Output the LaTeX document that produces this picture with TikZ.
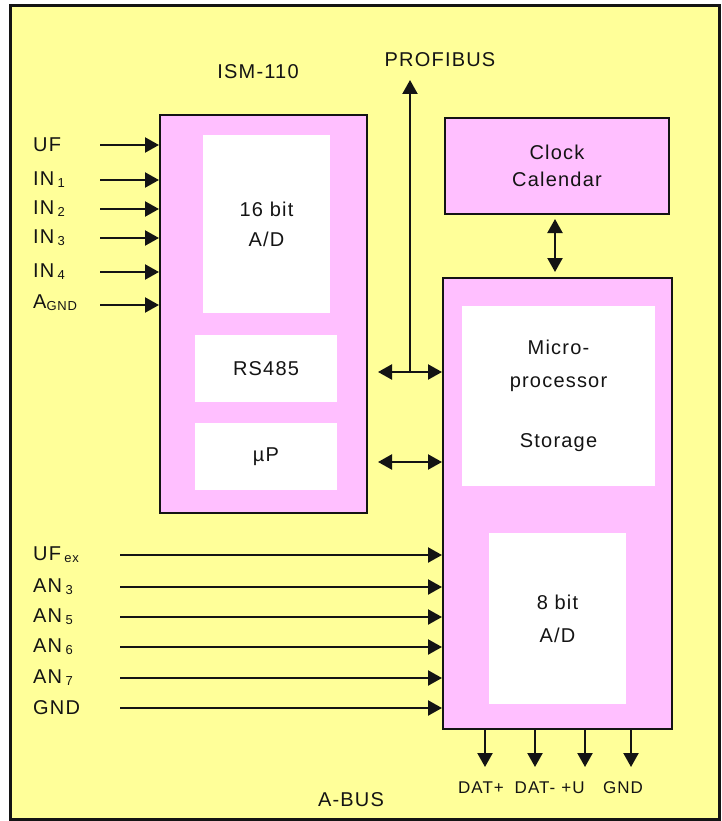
\documentclass[tikz,border=0pt]{standalone}
\usepackage{fontspec}
\setmainfont{Liberation Sans}[LetterSpace=6]
\usepackage{tikz}
\usetikzlibrary{arrows.meta,positioning}
\definecolor{canary}{HTML}{FFFF99}
\definecolor{orchid}{HTML}{FFBFFF}
\definecolor{ink}{HTML}{141414}
\newcommand{\lowsub}[1]{\raisebox{-2pt}{\fontsize{13}{13}\selectfont #1}}

\begin{document}
\begin{tikzpicture}[x=1pt, y=-1pt,
    block/.style={rectangle, draw=ink, line width=2pt, fill=orchid, inner sep=0pt},
    panel/.style={rectangle, fill=white, inner sep=0pt, align=center, text=ink, font=\fontsize{20}{30}\selectfont},
    lbl/.style={font=\fontsize{20}{24}\selectfont, text=ink, inner sep=0pt},
    pin/.style={lbl, anchor=west},
    tag/.style={font=\fontsize{17}{20}\selectfont, text=ink, inner sep=0pt},
    wire/.style={line width=2.2pt, draw=ink, -{Triangle[length=14pt, width=15pt]}},
    bus/.style={line width=2.2pt, draw=ink, {Triangle[length=14pt, width=15pt]}-{Triangle[length=14pt, width=15pt]}}
]
    \useasboundingbox (0,0) rectangle (721,821);
    \fill[white] (0,0) rectangle (721,821);

    % Frame
    \draw[line width=3pt, draw=ink, fill=canary] (10,6) rectangle (719,819);

    % === ISM-110 ===
    \node[block, minimum width=207, minimum height=398] (ism) at (263.5,314) {};
    \node[panel, minimum width=127, minimum height=178] (adhi) at (266.5,224) {16 bit\\A/D};
    \node[panel, minimum width=142, minimum height=67] (rs) at (266,368.5) {RS485};
    \node[panel, minimum width=142, minimum height=67] (mup) at (266,456.5) {µP};
    \node[lbl] (ismtitle) at (258,72) {ISM-110};

    % === Clock ===
    \node[block, minimum width=224, minimum height=96] (clock) at (557,166) {};
    \node[lbl, align=center, font=\fontsize{20}{27}\selectfont] (clocktxt) at (clock.center) {Clock\\Calendar};

    % === Main unit ===
    \node[block, minimum width=229, minimum height=451] (cpu) at (557.5,503.5) {};
    \node[panel, minimum width=193, minimum height=180, font=\fontsize{20}{33}\selectfont] (store) at (558.5,396) {Micro-\\processor\\[27pt]Storage};
    \node[panel, minimum width=137, minimum height=171, font=\fontsize{20}{33}\selectfont] (adlo) at (557.5,618.5) {8 bit\\A/D};

    % Inputs ISM-110
    \node[pin] (lUF) at (33,145) {UF};
    \node[pin] (lIN1) at (33,180) {IN\,\lowsub{1}};
    \node[pin] (lIN2) at (33,209) {IN\,\lowsub{2}};
    \node[pin] (lIN3) at (33,238) {IN\,\lowsub{3}};
    \node[pin] (lIN4) at (33,272) {IN\,\lowsub{4}};
    \node[pin] (lAGND) at (33,303) {A\lowsub{GND}};
    \coordinate (iUF) at (100,145);
    \coordinate (iIN1) at (100,180);
    \coordinate (iIN2) at (100,209);
    \coordinate (iIN3) at (100,238);
    \coordinate (iIN4) at (100,272);
    \coordinate (iAGND) at (100,305);
    \draw[wire] (iUF) -- (ism.west |- iUF);
    \draw[wire] (iIN1) -- (ism.west |- iIN1);
    \draw[wire] (iIN2) -- (ism.west |- iIN2);
    \draw[wire] (iIN3) -- (ism.west |- iIN3);
    \draw[wire] (iIN4) -- (ism.west |- iIN4);
    \draw[wire] (iAGND) -- (ism.west |- iAGND);

    % Inputs main unit
    \node[pin] (lUFex) at (33,555) {UF\,\lowsub{ex}};
    \node[pin] (lAN3) at (33,587) {AN\,\lowsub{3}};
    \node[pin] (lAN5) at (33,617) {AN\,\lowsub{5}};
    \node[pin] (lAN6) at (33,647) {AN\,\lowsub{6}};
    \node[pin] (lAN7) at (33,678) {AN\,\lowsub{7}};
    \node[pin] (lGND) at (33,708) {GND};
    \coordinate (iUFex) at (120,555);
    \coordinate (iAN3) at (120,587);
    \coordinate (iAN5) at (120,617);
    \coordinate (iAN6) at (120,647);
    \coordinate (iAN7) at (120,678);
    \coordinate (iGND) at (120,708);
    \draw[wire] (iUFex) -- (cpu.west |- iUFex);
    \draw[wire] (iAN3) -- (cpu.west |- iAN3);
    \draw[wire] (iAN5) -- (cpu.west |- iAN5);
    \draw[wire] (iAN6) -- (cpu.west |- iAN6);
    \draw[wire] (iAN7) -- (cpu.west |- iAN7);
    \draw[wire] (iGND) -- (cpu.west |- iGND);

    % PROFIBUS and links
    \node[lbl] (profibus) at (440,60) {PROFIBUS};
    \coordinate (rsL) at (378,372);
    \coordinate (busJ) at (410,372);
    \coordinate (busTop) at (410,80);
    \coordinate (mupL) at (378,462);
    \draw[bus] (rsL) -- (cpu.west |- rsL);
    \draw[wire] (busJ) -- (busTop);
    \draw[bus] (mupL) -- (cpu.west |- mupL);
    \draw[bus, shorten <=4pt, shorten >=5pt] ([xshift=-2pt]clock.south) -- ([xshift=-2pt]clock.south |- cpu.north);

    % A-BUS outputs
    \coordinate (oDp) at (485,767);
    \coordinate (oDm) at (535,767);
    \coordinate (oU) at (585,767);
    \coordinate (oG) at (631,767);
    \draw[wire] (cpu.south -| oDp) -- (oDp);
    \draw[wire] (cpu.south -| oDm) -- (oDm);
    \draw[wire] (cpu.south -| oU) -- (oU);
    \draw[wire] (cpu.south -| oG) -- (oG);
    \node[tag] (tDp) at (481,788) {DAT+};
    \node[tag] (tDm) at (535,788) {DAT-};
    \node[tag] (tU) at (573,788) {+U};
    \node[tag] (tG) at (623,788) {GND};
    \node[lbl] (abus) at (351,800) {A-BUS};

\end{tikzpicture}
\end{document}
